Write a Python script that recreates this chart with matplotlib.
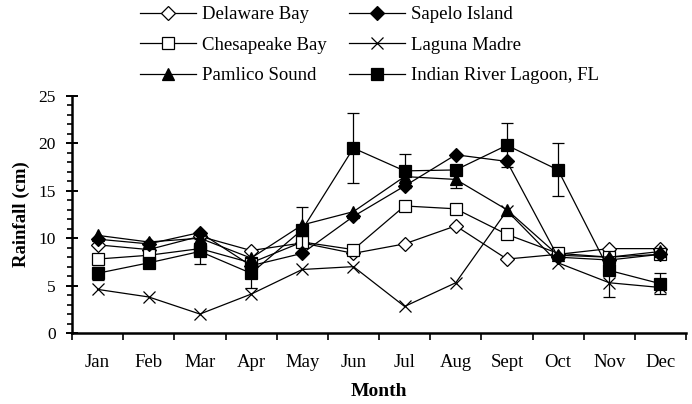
import matplotlib
matplotlib.use("Agg")
import matplotlib.pyplot as plt
from matplotlib.ticker import MultipleLocator, FixedLocator

plt.rcParams["font.family"] = ["Liberation Serif", "DejaVu Serif"]

months = ["Jan", "Feb", "Mar", "Apr", "May", "Jun", "Jul", "Aug", "Sept", "Oct", "Nov", "Dec"]

delaware = [9.3, 8.8, 10.2, 8.7, 9.5, 8.4, 9.4, 11.3, 7.8, 8.3, 8.9, 8.9]
chesapeake = [7.8, 8.2, 8.9, 7.4, 9.6, 8.8, 13.4, 13.1, 10.4, 8.4, 8.0, 8.3]
pamlico = [10.3, 9.6, 10.0, 7.9, 11.4, 12.8, 16.5, 16.2, 13.0, 8.2, 8.0, 8.6]
sapelo = [9.9, 9.4, 10.6, 7.1, 8.4, 12.3, 15.5, 18.8, 18.1, 8.0, 7.7, 8.3]
laguna = [4.6, 3.8, 2.0, 4.1, 6.7, 7.0, 2.8, 5.3, 12.9, 7.4, 5.3, 4.8]
indian_river = [6.3, 7.4, 8.6, 6.3, 10.9, 19.5, 17.1, 17.2, 19.8, 17.2, 6.6, 5.2]

# standard errors (0 = no bar drawn)
indian_river_err = [0.7, 0.4, 1.3, 1.6, 2.4, 3.7, 1.8, 0.0, 2.3, 2.8, 0.0, 1.1]
pamlico_err = [0, 0, 0, 0, 0, 0, 0, 0.9, 0, 0, 0, 0]
laguna_err = [0, 0, 0, 0, 0, 0, 0, 0, 0, 0, 1.5, 0]

W, H = 692, 404
fig = plt.figure(figsize=(W / 100, H / 100), dpi=100)
ax = fig.add_axes([72 / W, 71 / H, 614 / W, 237 / H])

x = list(range(len(months)))
lw = 0.9


def series(vals, err, marker, face, ms, label, z):
    line, = ax.plot(x, vals, color="black", lw=lw, marker=marker, ms=ms,
                    mfc=face, mec="black", mew=0.9, label=label, zorder=z)
    if err is not None:
        xs = [i for i, e in zip(x, err) if e > 0]
        ys = [v for v, e in zip(vals, err) if e > 0]
        es = [e for e in err if e > 0]
        ax.errorbar(xs, ys, yerr=es, fmt="none", ecolor="black",
                    elinewidth=0.9, capsize=4, capthick=0.9, zorder=z - 0.5)
    return line


h_lag = series(laguna, laguna_err, "x", "black", 9, "Laguna Madre", 3)
h_del = series(delaware, None, "D", "white", 7.5, "Delaware Bay", 4)
h_che = series(chesapeake, None, "s", "white", 8.5, "Chesapeake Bay", 5)
h_sap = series(sapelo, None, "D", "black", 7.5, "Sapelo Island", 6)
h_pam = series(pamlico, pamlico_err, "^", "black", 9, "Pamlico Sound", 7)
h_ind = series(indian_river, indian_river_err, "s", "black", 8.5,
               "Indian River Lagoon, FL", 8)

ax.set_xlim(-0.5, len(months) - 0.5)
ax.set_ylim(0, 25)

ax.xaxis.set_major_locator(FixedLocator([i - 0.5 for i in range(len(months) + 1)]))
ax.xaxis.set_minor_locator(FixedLocator(x))
ax.set_xticklabels([])
ax.set_xticklabels(months, minor=True)
ax.tick_params(axis="x", which="major", direction="out", length=5, width=1.2)
ax.tick_params(axis="x", which="minor", length=0, labelsize=13.5, pad=15)

ax.yaxis.set_major_locator(MultipleLocator(5))
ax.yaxis.set_minor_locator(MultipleLocator(1))
ax.tick_params(axis="y", which="major", direction="inout", length=9, width=1.4,
               labelsize=12.5, pad=7)
ax.tick_params(axis="y", which="minor", direction="out", length=3.5, width=1.2)

for s in ("top", "right"):
    ax.spines[s].set_visible(False)
for s in ("left", "bottom"):
    ax.spines[s].set_linewidth(1.8)

ax.set_ylabel("Rainfall (cm)", fontsize=13.5, fontweight="bold", labelpad=6)
ax.set_xlabel("Month", fontsize=14, fontweight="bold", labelpad=9)

fig.legend(handles=[h_del, h_che, h_pam, h_sap, h_lag, h_ind], ncol=2,
           loc="upper left", bbox_to_anchor=(140 / W, 1 - 6 / H),
           frameon=False, fontsize=13.5, handlelength=3.0, handletextpad=0.3,
           columnspacing=1.2, labelspacing=0.72, borderpad=0, borderaxespad=0)

fig.savefig("out.png", dpi=100, facecolor="white")
